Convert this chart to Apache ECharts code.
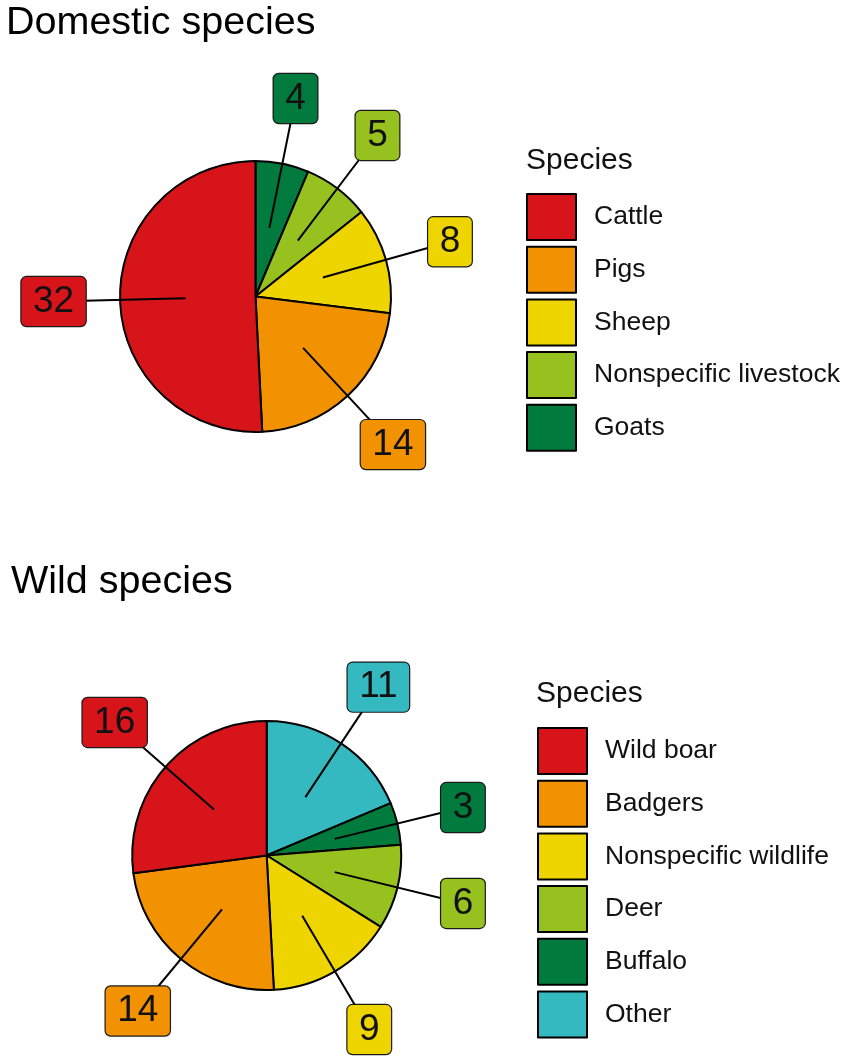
<!DOCTYPE html>
<html lang="en">
<head>
    <meta charset="UTF-8">
    <title>Domestic and wild species</title>
    <script src="https://cdn.jsdelivr.net/npm/echarts@6/dist/echarts.min.js"></script>
    <style>
        html, body { margin: 0; padding: 0; background: #fff; }
    </style>
</head>
<body>
<div id="main" style="width:851px;height:1063px;"></div>
<script type="text/javascript">
    // data, in legend order
    var domesticNames = ['Cattle', 'Pigs', 'Sheep', 'Nonspecific livestock', 'Goats'];
    var domesticValues = [32, 14, 8, 5, 4];
    var domesticColors = ['#d7141a', '#f39200', '#efd500', '#97c11f', '#007a3d'];

    var wildNames = ['Wild boar', 'Badgers', 'Nonspecific wildlife', 'Deer', 'Buffalo', 'Other'];
    var wildValues = [16, 14, 9, 6, 3, 11];
    var wildColors = ['#d7141a', '#f39200', '#efd500', '#97c11f', '#007a3d', '#35b9c1'];

    var FONT = "'Liberation Sans', Arial, Helvetica, sans-serif";
    var LINE_R = 70;   // where the label line starts (inside the slice)
    var LABEL_R = 202; // where the label box sits

    var domCenter = [255.5, 296.5];
    var wildCenter = [266.7, 855.5];

    // slices go clockwise from 12 o'clock in reverse legend order
    function sliceData(names, values, colors, forLabels) {
        var out = [];
        for (var i = names.length - 1; i >= 0; i--) {
            out.push({
                name: names[i],
                value: values[i],
                itemStyle: forLabels ? {color: 'rgba(0,0,0,0)', borderWidth: 0} : {color: colors[i]},
                label: {backgroundColor: colors[i]}
            });
        }
        return out;
    }

    // put the label box out along the slice middle, line from inside the slice
    function labelPlacer(center) {
        return function (params) {
            var p = params.labelLinePoints;
            if (!p || !p.length) return {};
            var dx = p[0][0] - center[0], dy = p[0][1] - center[1];
            var len = Math.sqrt(dx * dx + dy * dy) || 1;
            var ux = dx / len, uy = dy / len;
            var lx = center[0] + ux * LABEL_R, ly = center[1] + uy * LABEL_R;
            return {
                x: lx,
                y: ly,
                align: 'center',
                verticalAlign: 'middle',
                labelLinePoints: [
                    [center[0] + ux * LINE_R, center[1] + uy * LINE_R],
                    [lx, ly]
                ]
            };
        };
    }

    // the slices themselves
    function pieSeries(name, center, radius, data) {
        return {
            name: name,
            type: 'pie',
            z: 2,
            center: center,
            radius: radius,
            startAngle: 90,
            clockwise: true,
            animation: false,
            silent: true,
            itemStyle: {borderColor: '#000', borderWidth: 2},
            emphasis: {disabled: true},
            label: {show: false},
            labelLine: {show: false},
            data: data
        };
    }

    // same pie again, see-through, only to carry labels and lines above the slices
    function labelSeries(name, center, radius, data) {
        return {
            name: name + ' labels',
            type: 'pie',
            z: 4,
            center: center,
            radius: radius,
            startAngle: 90,
            clockwise: true,
            avoidLabelOverlap: false,
            minShowLabelAngle: 0,
            animation: false,
            silent: true,
            emphasis: {disabled: true},
            label: {
                show: true,
                position: 'outside',
                formatter: '{c}',
                fontFamily: FONT,
                fontSize: 37,
                lineHeight: 42,
                color: '#111',
                borderColor: '#1a1a1a',
                borderWidth: 1.2,
                borderRadius: 5,
                padding: [4, 11.5, 3, 11.5]
            },
            labelLine: {
                show: true,
                length: 20,
                length2: 0,
                lineStyle: {color: '#000', width: 2}
            },
            labelLayout: labelPlacer(center),
            data: data
        };
    }

    function legendFor(names, left, top) {
        return {
            data: names,
            orient: 'vertical',
            left: left,
            top: top,
            padding: 0,
            icon: 'rect',
            itemWidth: 49,
            itemHeight: 46,
            itemGap: 4.7,
            selectedMode: false,
            textStyle: {
                fontFamily: FONT,
                fontSize: 26.5,
                color: '#111',
                padding: [0, 0, 0, 13]
            }
        };
    }

    var myChart = echarts.init(document.getElementById('main'), null, {renderer: 'canvas'});

    myChart.setOption({
        backgroundColor: '#fff',
        animation: false,
        title: [
            {text: 'Domestic species', left: 6, top: 3, padding: 0,
                textStyle: {fontFamily: FONT, fontSize: 39.5, fontWeight: 'normal', color: '#000'}},
            {text: 'Species', left: 526, top: 146, padding: 0,
                textStyle: {fontFamily: FONT, fontSize: 30, fontWeight: 'normal', color: '#111'}},
            {text: 'Wild species', left: 11, top: 562, padding: 0,
                textStyle: {fontFamily: FONT, fontSize: 39.5, fontWeight: 'normal', color: '#000'}},
            {text: 'Species', left: 536, top: 679, padding: 0,
                textStyle: {fontFamily: FONT, fontSize: 30, fontWeight: 'normal', color: '#111'}}
        ],
        legend: [
            legendFor(domesticNames, 526, 193),
            legendFor(wildNames, 537, 727)
        ],
        series: [
            pieSeries('Domestic species', domCenter, 135.5, sliceData(domesticNames, domesticValues, domesticColors, false)),
            pieSeries('Wild species', wildCenter, 134.5, sliceData(wildNames, wildValues, wildColors, false)),
            labelSeries('Domestic species', domCenter, 135.5, sliceData(domesticNames, domesticValues, domesticColors, true)),
            labelSeries('Wild species', wildCenter, 134.5, sliceData(wildNames, wildValues, wildColors, true))
        ]
    });
</script>
</body>
</html>
